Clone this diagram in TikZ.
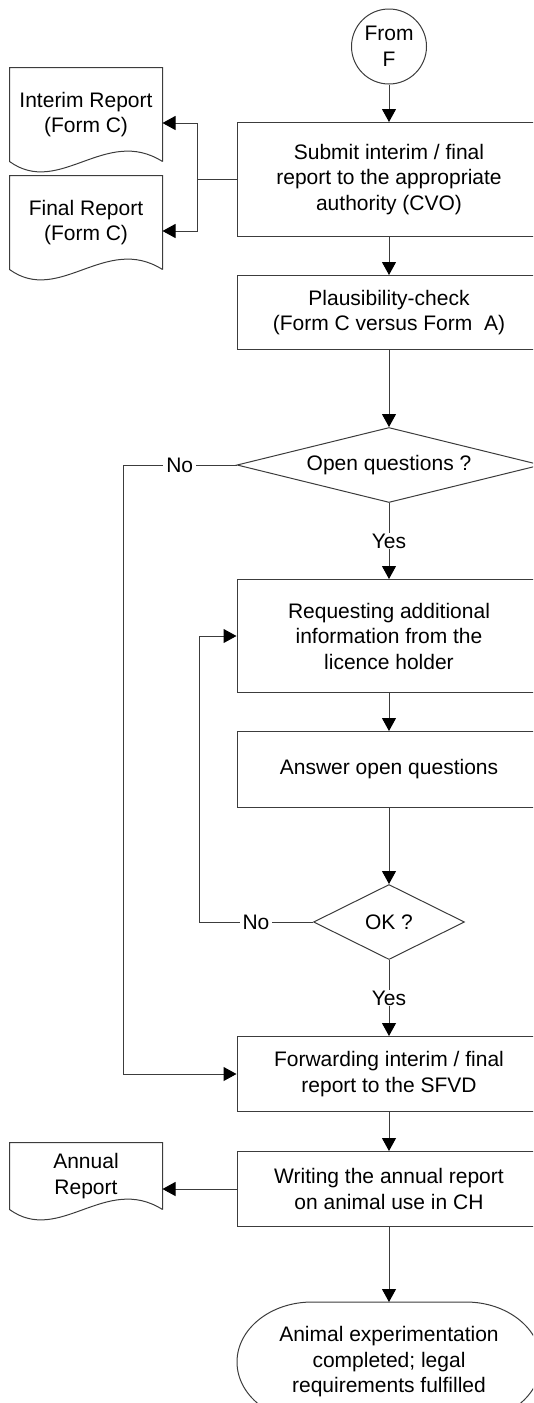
\documentclass[tikz,border=0pt]{standalone}
\usepackage{fontspec}
\setmainfont{Liberation Sans}
\usepackage{tikz}
\usetikzlibrary{arrows.meta,positioning,shapes.geometric}
\definecolor{lineclr}{RGB}{60,60,60}
\tikzset{
  flowbox/.style={
    draw=lineclr,line width=1pt,align=center,inner sep=4pt,
    font=\fontsize{21}{25.5}\selectfont
  },
  procbox/.style={flowbox,minimum width=304pt},
  decbox/.style={flowbox,diamond,inner sep=0pt},
  docbox/.style={flowbox,draw=none,minimum width=152pt},
  termbox/.style={flowbox,draw=none,outer sep=0pt,minimum width=304pt,minimum height=120pt},
  startcirc/.style={flowbox,circle,minimum size=75pt,inner sep=0pt},
  flowline/.style={draw=lineclr,line width=1pt},
  flowarrow/.style={-{Triangle[length=13pt,width=14pt,color=black]},flowline},
  anslabel/.style={fill=white,inner xsep=3pt,inner ysep=1pt,font=\fontsize{21}{25.5}\selectfont}
}
\begin{document}
\begin{tikzpicture}[x=1pt,y=-1pt]
  \useasboundingbox (0,0) rectangle (533,1403);
  \clip (0,0) rectangle (533,1403);
  % main column
  \node[startcirc] (from) at (389,46.5) {From\\F};
  \node[procbox,minimum height=114pt,below=37.5pt of from] (submit)
    {Submit interim / final\\report to the appropriate\\authority (CVO)};
  \node[procbox,minimum height=74pt,below=38pt of submit] (plaus)
    {Plausibility-check\\(Form C versus Form~~A)};
  \node[decbox,aspect=4,minimum width=304pt,minimum height=75pt,below=77pt of plaus] (openq)
    {Open questions ?};
  \node[procbox,minimum height=113pt,below=76pt of openq] (request)
    {Requesting additional\\information from the\\licence holder};
  \node[procbox,minimum height=76pt,below=38pt of request] (answer) {Answer open questions};
  \node[decbox,aspect=2,minimum width=151pt,minimum height=75pt,below=76pt of answer] (okq) {OK ?};
  \node[procbox,minimum height=75pt,below=76pt of okq] (fwd)
    {Forwarding interim / final\\report to the SFVD};
  \node[procbox,minimum height=75pt,below=39pt of fwd] (writing)
    {Writing the annual report\\on animal use in CH};
  \node[termbox,below=75pt of writing] (term)
    {Animal experimentation\\completed; legal\\requirements fulfilled};
  \draw[flowline] ([xshift=75pt]term.north west) -- ([xshift=-75pt]term.north east)
    arc[start angle=90,end angle=-90,x radius=75pt,y radius=60pt]
    -- ([xshift=75pt]term.south west)
    arc[start angle=270,end angle=90,x radius=75pt,y radius=60pt] -- cycle;
  % documents
  \node[docbox,minimum height=93pt] (interim) at (86,114.5) {Interim Report\\(Form C)};
  \node[docbox,minimum height=93pt,below=14pt of interim] (final) {Final Report\\(Form C)};
  \node[docbox,minimum height=66pt] (annual) at (86,1176) {Annual\\Report};
  \foreach \d in {interim,final,annual}
    \draw[flowline] (\d.south east) -- (\d.north east) -- (\d.north west) -- (\d.south west)
      .. controls +(50,36) and +(-57,-36) .. (\d.south east);
  % connectors
  \draw[flowarrow] (from) -- (submit);
  \draw[flowarrow] (submit) -- (plaus);
  \draw[flowarrow] (plaus) -- (openq);
  \draw[flowarrow] (openq) -- node[anslabel] {Yes} (request);
  \draw[flowarrow] (request) -- (answer);
  \draw[flowarrow] (answer) -- (okq);
  \draw[flowarrow] (okq) -- node[anslabel] {Yes} (fwd);
  \draw[flowarrow] (fwd) -- (writing);
  \draw[flowarrow] (writing) -- (term);
  \draw[flowarrow] (openq.west) -- node[anslabel] {No} ++(-113.5,0) |- (fwd.west);
  \draw[flowarrow] (okq.west) -- node[anslabel] {No} ++(-114,0) |- (request.west);
  \coordinate (split) at ([xshift=-39pt]submit.west);
  \draw[flowline] (submit.west) -- (split);
  \draw[flowarrow] (split) |- ([yshift=-8.5pt]interim.east);
  \draw[flowarrow] (split) |- ([yshift=-8.5pt]final.east);
  \draw[flowarrow] (writing.west) -- (writing.west -| annual.east);
\end{tikzpicture}
\end{document}
